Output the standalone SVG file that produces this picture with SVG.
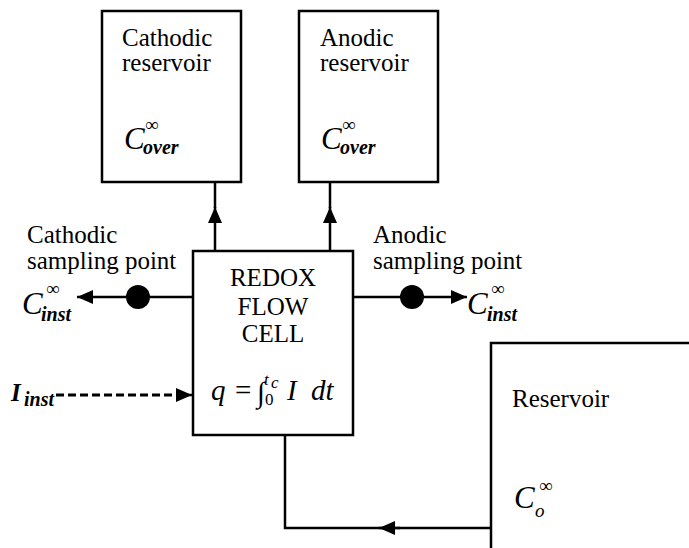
<svg xmlns="http://www.w3.org/2000/svg" width="689" height="548" viewBox="0 0 689 548" font-family="'Liberation Serif', Tinos, 'Times New Roman', 'DejaVu Serif', serif">
<style>
.box{fill:#fff;stroke:#000;stroke-width:2.5}
.ln{fill:none;stroke:#000;stroke-width:2.5}
.dash{fill:none;stroke:#000;stroke-width:3;stroke-dasharray:8 4}
text{font-family:'Liberation Serif', Tinos, 'Times New Roman', 'DejaVu Serif', serif;fill:#000}
.t{font-size:25px}
.mid{text-anchor:middle}
.C{font-size:31px;font-style:italic}
.sub{font-size:20px;font-style:italic;font-weight:bold}
.inf{font-size:19px}
.eq{font-size:29px}
.sm{font-size:17px}
</style>
<defs>
<marker id="arr" viewBox="0 0 16 14" refX="16" refY="7" markerWidth="16" markerHeight="14" orient="auto" markerUnits="userSpaceOnUse">
<path d="M0,0 L16,7 L0,14 Z" fill="#000"/>
</marker>
</defs>
<g id="connectors">
<line class="ln" x1="215" y1="251" x2="215" y2="207" marker-end="url(#arr)"/>
<line class="ln" x1="215" y1="208" x2="215" y2="182"/>
<line class="ln" x1="330" y1="251" x2="330" y2="207" marker-end="url(#arr)"/>
<line class="ln" x1="330" y1="208" x2="330" y2="182"/>
<line class="ln" x1="193" y1="297" x2="77" y2="297" marker-end="url(#arr)"/>
<circle cx="138" cy="297" r="12" fill="#000"/>
<line class="ln" x1="353" y1="297" x2="467" y2="297" marker-end="url(#arr)"/>
<circle cx="412" cy="297" r="12" fill="#000"/>
<line class="dash" x1="56" y1="395" x2="180" y2="395"/>
<line class="ln" x1="176" y1="395" x2="192" y2="395" marker-end="url(#arr)"/>
<polyline class="ln" points="491,528 285,528 285,435"/>
<line class="ln" x1="400" y1="528" x2="379" y2="528" marker-end="url(#arr)"/>
</g>
<g id="cathodic-reservoir">
<rect class="box" x="102" y="11" width="139" height="171"/>
<text class="t" x="122" y="46">Cathodic</text>
<text class="t" x="122" y="71">reservoir</text>
<text class="C" x="124" y="149">C</text>
<text class="inf" x="145" y="131">∞</text>
<text class="sub" x="143" y="154">over</text>
</g>
<g id="anodic-reservoir">
<rect class="box" x="299" y="11" width="139" height="171"/>
<text class="t" x="320" y="46">Anodic</text>
<text class="t" x="320" y="71">reservoir</text>
<text class="C" x="321" y="149">C</text>
<text class="inf" x="342" y="131">∞</text>
<text class="sub" x="340" y="154">over</text>
</g>
<g id="redox-flow-cell">
<rect class="box" x="193" y="251" width="160" height="184"/>
<text class="t mid" x="273" y="286">REDOX</text>
<text class="t mid" x="273" y="315">FLOW</text>
<text class="t mid" x="273" y="342">CELL</text>
<text class="eq" x="211" y="400" font-style="italic">q</text>
<text class="eq" x="235" y="400">=</text>
<text class="eq" x="257" y="402">∫</text>
<text class="sm" x="265" y="405">0</text>
<text class="sm" x="264" y="385" font-style="italic">t</text>
<text class="sm" x="271" y="388" font-style="italic">c</text>
<text class="eq" x="287" y="400" font-style="italic">I</text>
<text class="eq" x="311" y="400" font-style="italic">dt</text>
</g>
<g id="cathodic-sampling-point">
<text class="t" x="27" y="243">Cathodic</text>
<text class="t" x="27" y="269">sampling point</text>
<text class="C" x="22" y="314">C</text>
<text class="inf" x="46" y="295">∞</text>
<text class="sub" x="41" y="321">inst</text>
</g>
<g id="anodic-sampling-point">
<text class="t" x="373" y="243">Anodic</text>
<text class="t" x="373" y="269">sampling point</text>
<text class="C" x="467" y="314">C</text>
<text class="inf" x="491" y="295">∞</text>
<text class="sub" x="487" y="321">inst</text>
</g>
<g id="current-input">
<text x="11" y="401" font-size="25" font-style="italic" font-weight="bold">I</text>
<text class="sub" x="24" y="406" font-size="17">inst</text>
</g>
<g id="reservoir">
<path class="ln" d="M491,548 V343 H689"/>
<text class="t" x="512" y="407">Reservoir</text>
<text class="C" x="514" y="508" font-size="29">C</text>
<text class="inf" x="539" y="492">∞</text>
<text x="535" y="517" font-size="19" font-style="italic">o</text>
</g>
</svg>
